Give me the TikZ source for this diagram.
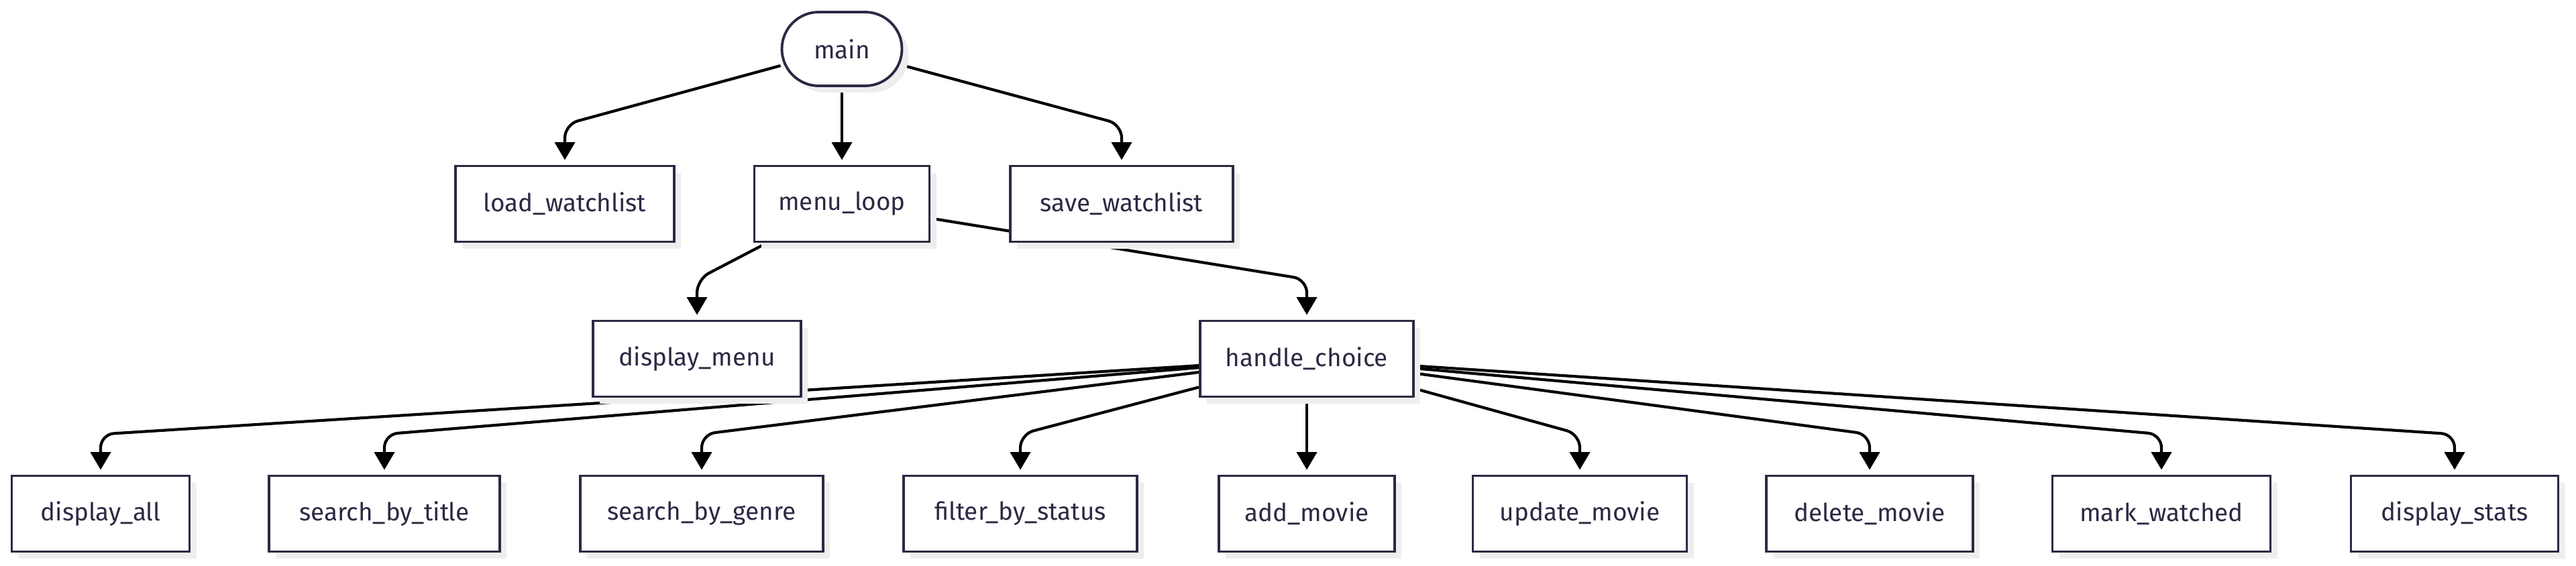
\documentclass[tikz,border=0pt]{standalone}
\usepackage{fontspec}
\setmainfont{Fira Sans}
\usetikzlibrary{arrows.meta,shadows,backgrounds}
\definecolor{ink}{HTML}{2A2A44}
\definecolor{shade}{HTML}{EEEEEE}

\begin{document}
\begin{tikzpicture}[>={Triangle[width=8.5pt,length=7.5pt]},shorten >=2pt,
  fn/.style={draw=ink,line width=1.1pt,fill=white,text=ink,minimum height=1.13cm,
    font=\fontsize{10.5}{12}\selectfont,
    drop shadow={shadow xshift=0.1cm,shadow yshift=-0.1cm,fill=shade,opacity=1}},
  call/.style={->,line width=1.2pt,rounded corners=0.2cm}]
\useasboundingbox (0,0) rectangle (38.4,-8.43);
\node[fn,rounded corners=0.55cm,minimum width=1.79cm,minimum height=1.1cm] (main) at (12.55,-0.73) {main};
\node[fn,minimum width=3.26cm] (load)    at (8.42,-3.04)  {load\_watchlist};
\node[fn,minimum width=2.61cm] (loop)    at (12.55,-3.04) {menu\_loop};
\node[fn,minimum width=3.32cm] (save)    at (16.72,-3.04) {save\_watchlist};
\node[fn,minimum width=3.10cm] (menu)    at (10.39,-5.35) {display\_menu};
\node[fn,minimum width=3.18cm] (choice)  at (19.48,-5.35) {handle\_choice};
\node[fn,minimum width=2.65cm] (all)     at (1.50,-7.66)  {display\_all};
\node[fn,minimum width=3.44cm] (title)   at (5.73,-7.66)  {search\_by\_title};
\node[fn,minimum width=3.62cm] (genre)   at (10.46,-7.66) {search\_by\_genre};
\node[fn,minimum width=3.48cm] (status)  at (15.21,-7.66) {filter\_by\_status};
\node[fn,minimum width=2.62cm] (add)     at (19.48,-7.66) {add\_movie};
\node[fn,minimum width=3.19cm] (update)  at (23.55,-7.66) {update\_movie};
\node[fn,minimum width=3.08cm] (delete)  at (27.87,-7.66) {delete\_movie};
\node[fn,minimum width=3.25cm] (watched) at (32.22,-7.66) {mark\_watched};
\node[fn,minimum width=3.09cm] (stats)   at (36.59,-7.66) {display\_stats};
\begin{scope}[on background layer]
\draw[call] (main) -- ([yshift=0.6cm]load.north) -- (load);
\draw[call] (main) -- (loop);
\draw[call] (main) -- ([yshift=0.6cm]save.north) -- (save);
\draw[call] (loop) -- ([yshift=0.6cm]menu.north) -- (menu);
\draw[call] (loop) -- ([yshift=0.6cm]choice.north) -- (choice);
\foreach \callee in {all,title,genre,status,update,delete,watched,stats}
  \draw[call] (choice) -- ([yshift=0.6cm]\callee.north) -- (\callee);
\draw[call] (choice) -- (add);
\end{scope}
\end{tikzpicture}
\end{document}
